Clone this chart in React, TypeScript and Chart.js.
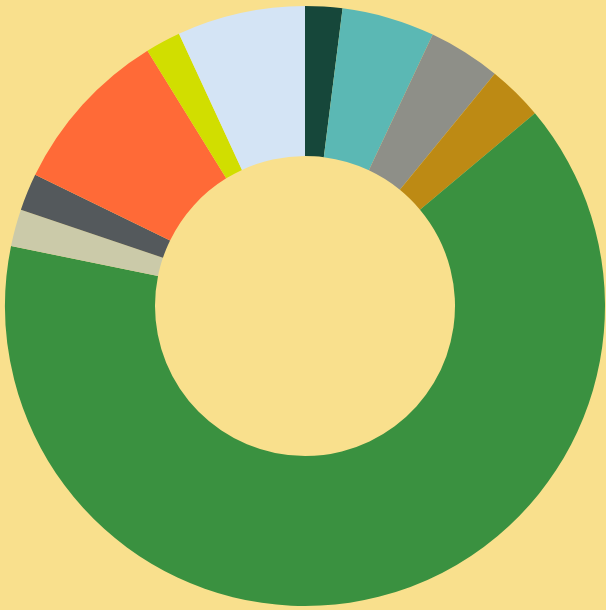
import React, { useEffect, useRef } from "react";
import { Chart, registerables } from "chart.js";

Chart.register(...registerables);

const categories = ["A", "B", "C", "D", "E", "F", "G", "H", "I", "J"];
const values = [2, 5, 3.9, 3, 64.3, 2, 2, 9, 1.9, 6.9];
const colors = [
  "#16473a",
  "#5bb8b4",
  "#8e8f88",
  "#bd8a14",
  "#3a9140",
  "#cbcaa9",
  "#54595c",
  "#ff6a37",
  "#d1de00",
  "#d4e4f5",
];
const background = "#f9e08d";

export default function App() {
  const ref = useRef<HTMLCanvasElement>(null);
  useEffect(() => {
    document.body.style.margin = "0";
    document.body.style.background = background;
    const chart = new Chart(ref.current!, {
      type: "doughnut",
      data: {
        labels: categories,
        datasets: [
          {
            data: values,
            backgroundColor: colors,
            borderWidth: 0,
          },
        ],
      },
      options: {
        animation: false,
        responsive: false,
        cutout: "50%",
        layout: { padding: { left: 5, right: 1, top: 5, bottom: 3 } },
        plugins: {
          legend: { display: false },
          tooltip: { enabled: false },
        },
      },
    });
    return () => chart.destroy();
  }, []);
  return (
    <div style={{ width: 606, height: 610, background }}>
      <canvas ref={ref} width={606} height={610} style={{ display: "block" }} />
    </div>
  );
}
